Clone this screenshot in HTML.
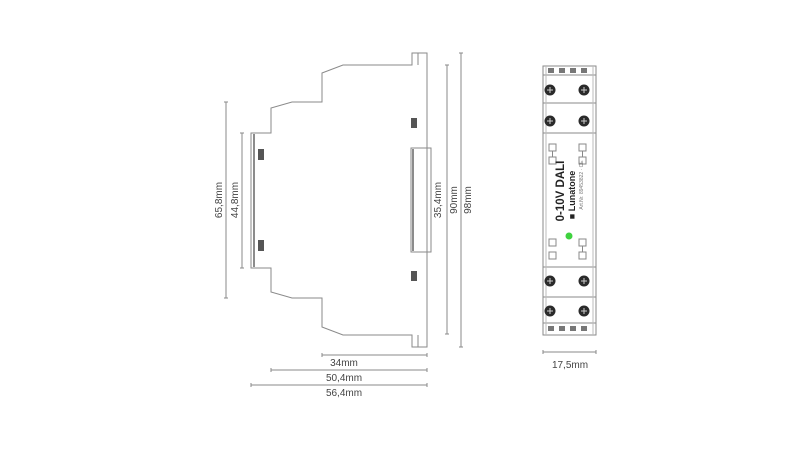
<!DOCTYPE html>
<html><head><style>html,body{margin:0;padding:0;background:#fff;}svg{display:block}</style></head>
<body>
<svg width="800" height="450" viewBox="0 0 800 450" xmlns="http://www.w3.org/2000/svg" font-family="Liberation Sans, sans-serif">
<g fill="none" stroke="#8a8a8a" stroke-width="1">
<path d="M412,53 L427,53 L427,347 L412,347 L412,335 L373,335 L343,335 L322,327 L322,298 L292,298 L271,292 L271,268 L251,268 L251,133 L271,133 L271,108 L292,102 L322,102 L322,73 L343,65 L412,65 Z"/>
<path d="M418,53 L418,65 M418,335 L418,347"/>
<path d="M254,134 L254,267" stroke="#666" stroke-width="1.5"/>
<rect x="411" y="148" width="20" height="104"/>
<path d="M413,149 L413,251" stroke="#666" stroke-width="1.5"/>
<path d="M226,102 L226,298 M224,102 L228,102 M224,298 L228,298"/>
<path d="M242,133 L242,268 M240,133 L244,133 M240,268 L244,268"/>
<path d="M447,65 L447,334 M445,65 L449,65 M445,334 L449,334"/>
<path d="M461,53 L461,347 M459,53 L463,53 M459,347 L463,347"/>
<path d="M322,355 L427,355 M322,353 L322,357 M427,353 L427,357"/>
<path d="M271,370 L427,370 M271,368 L271,372 M427,368 L427,372"/>
<path d="M251,385 L427,385 M251,383 L251,387 M427,383 L427,387"/>
<path d="M543,352 L596,352 M543,350 L543,354 M596,350 L596,354"/>
<rect x="543" y="66" width="53" height="269"/>
<path d="M543,75 L596,75 M543,103 L596,103 M543,133 L596,133 M543,267 L596,267 M543,297 L596,297 M543,323 L596,323"/>
<path d="M546,66 L546,335 M593,66 L593,335" stroke="#bbb"/>
</g>
<g fill="#555">
<rect x="258" y="149" width="6" height="11"/><rect x="258" y="240" width="6" height="11"/>
<rect x="411" y="118" width="6" height="10"/><rect x="411" y="271" width="6" height="10"/>
</g>
<g fill="#777">
<rect x="548" y="68" width="6" height="5"/><rect x="559" y="68" width="6" height="5"/><rect x="570" y="68" width="6" height="5"/><rect x="581" y="68" width="6" height="5"/>
<rect x="548" y="326" width="6" height="5"/><rect x="559" y="326" width="6" height="5"/><rect x="570" y="326" width="6" height="5"/><rect x="581" y="326" width="6" height="5"/>
</g>
<g fill="#2a2a2a">
<circle cx="550" cy="90" r="5.5"/><circle cx="584" cy="90" r="5.5"/>
<circle cx="550" cy="121" r="5.5"/><circle cx="584" cy="121" r="5.5"/>
<circle cx="550" cy="281" r="5.5"/><circle cx="584" cy="281" r="5.5"/>
<circle cx="550" cy="311" r="5.5"/><circle cx="584" cy="311" r="5.5"/>
</g>
<g stroke="#ccc" stroke-width="1">
<path d="M547,90h6M550,87v6M581,90h6M584,87v6M547,121h6M550,118v6M581,121h6M584,118v6M547,281h6M550,278v6M581,281h6M584,278v6M547,311h6M550,308v6M581,311h6M584,308v6"/>
</g>
<g fill="none" stroke="#888">
<rect x="549" y="144" width="7" height="7"/><rect x="549" y="157" width="7" height="7"/><path d="M552.5,151v6"/>
<rect x="579" y="144" width="7" height="7"/><rect x="579" y="157" width="7" height="7"/><path d="M582.5,151v6"/>
<rect x="549" y="239" width="7" height="7"/><rect x="549" y="252" width="7" height="7"/>
<rect x="579" y="239" width="7" height="7"/><rect x="579" y="252" width="7" height="7"/><path d="M582.5,246v6"/>
</g>
<circle cx="569" cy="236" r="3.5" fill="#3fd23f"/>
<g fill="#222" font-weight="bold">
<text transform="translate(564,191) rotate(-90)" text-anchor="middle" font-size="11.5">0-10V DALI</text>
<text transform="translate(575,195) rotate(-90)" text-anchor="middle" font-size="9">■ Lunatone</text>
</g>
<text transform="translate(583,185) rotate(-90)" text-anchor="middle" font-size="5" fill="#777">Art.Nr. 89453822 · CE</text>
<g fill="#444" font-size="10">
<text transform="translate(222,200) rotate(-90)" text-anchor="middle">65,8mm</text>
<text transform="translate(238,200) rotate(-90)" text-anchor="middle">44,8mm</text>
<text transform="translate(441,200) rotate(-90)" text-anchor="middle">35,4mm</text>
<text transform="translate(457,200) rotate(-90)" text-anchor="middle">90mm</text>
<text transform="translate(471,200) rotate(-90)" text-anchor="middle">98mm</text>
<text x="344" y="366" text-anchor="middle">34mm</text>
<text x="344" y="381" text-anchor="middle">50,4mm</text>
<text x="344" y="396" text-anchor="middle">56,4mm</text>
<text x="570" y="368" text-anchor="middle">17,5mm</text>
</g>
</svg>
</body></html>
